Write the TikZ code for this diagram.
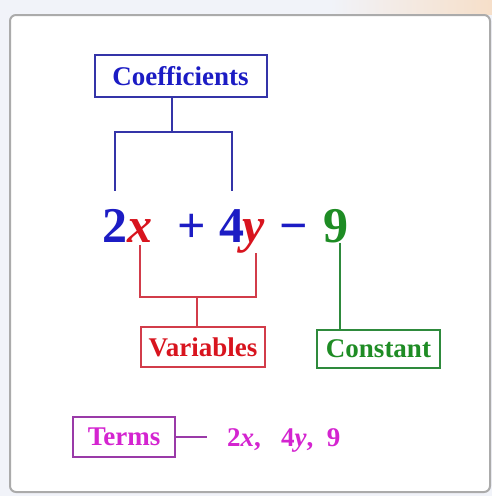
\documentclass[tikz,border=0pt]{standalone}
\usepackage{fontspec}
\setmainfont{Liberation Serif}
\definecolor{pagebg}{HTML}{F1F3F9}
\definecolor{peach}{HTML}{F6DFC9}
\definecolor{framegray}{HTML}{ABABAB}
\definecolor{coefblue}{HTML}{1C1CC4}
\definecolor{coefborder}{HTML}{3434A8}
\definecolor{varred}{HTML}{D8141E}
\definecolor{varborder}{HTML}{D23C4A}
\definecolor{constgreen}{HTML}{1E8C24}
\definecolor{constborder}{HTML}{2E8A3C}
\definecolor{termpink}{HTML}{D424D0}
\definecolor{termborder}{HTML}{9A3AA8}
\def\tagfont{\fontsize{27}{30}\selectfont\bfseries}
\def\eqfont{\fontsize{50}{56}\selectfont\bfseries}
\tikzset{
  tagbox/.style={rectangle, draw, line width=2pt, inner sep=0pt, align=center, font=\tagfont},
  coefbox/.style={tagbox, draw=coefborder, text=coefblue, minimum width=172pt, minimum height=42pt},
  varbox/.style={tagbox, draw=varborder, text=varred, minimum width=124pt, minimum height=40pt},
  constbox/.style={tagbox, draw=constborder, text=constgreen, minimum width=123pt, minimum height=38pt},
  termbox/.style={tagbox, draw=termborder, text=termpink, minimum width=102pt, minimum height=40pt},
  glyph/.style={inner sep=0pt, anchor=base west, font=\eqfont},
  coefline/.style={draw=coefborder, line width=2pt},
  varline/.style={draw=varborder, line width=2pt},
  constline/.style={draw=constborder, line width=2pt},
  termline/.style={draw=termborder, line width=2pt}
}

\begin{document}
\begin{tikzpicture}[x=1pt, y=-1pt]
\useasboundingbox (0,0) rectangle (492,496);

% Page and card
\fill[pagebg] (0,0) rectangle (492,496);
\shade[left color=pagebg, right color=peach] (330,0) rectangle (492,14);
\draw[draw=framegray, fill=white, line width=2pt, rounded corners=6pt] (10,15) rectangle (490,492);

% --- Expression ---
\node[glyph, text=coefblue]   (two)   at (102,242) {2};
\node[glyph, text=varred]     (xvar)  at (127,242) {\textit{x}};
\node[glyph, text=coefblue]   (plus)  at (177,242) {+};
\node[glyph, text=coefblue]   (four)  at (219,242) {4};
\node[glyph, text=varred]     (yvar)  at (242,242) {\textit{y}};
\node[glyph, text=coefblue]   (minus) at (279,242) {−};
\node[glyph, text=constgreen] (nine)  at (323,242) {9};

% --- Labels ---
\node[coefbox]  (coef)   at (180.5,76) {Coefficients};
\node[varbox]   (vars)   at (203,347)  {Variables};
\node[constbox] (const)  at (378.5,349) {Constant};
\node[termbox]  (terms)  at (124,437)  {Terms};
\node[inner sep=0pt, anchor=base west, font=\tagfont, text=termpink] (termlist) at (227,446)
  {2\textit{x},\enspace\ 4\textit{y},\enspace 9};

% --- Brackets ---
\coordinate (coefjoin) at (172,132);
\coordinate (varjoin)  at (197,297);
% Coefficients over the numbers
\draw[coefline] ([yshift=18pt]two.north) |- (coefjoin) -| ([yshift=18pt]four.north);
\draw[coefline] (coefjoin) -- (coefjoin |- coef.south);
% Variables under the letters
\draw[varline] ([yshift=-3pt]xvar.south) |- (varjoin) -| ([xshift=3pt]yvar.south);
\draw[varline] (varjoin) -- (varjoin |- vars.north);
% Constant under the 9
\draw[constline] ([xshift=4pt]nine.south) -- ([xshift=4pt]nine.south |- const.north);
% Terms list
\draw[termline] (terms.east) -- ([xshift=-20pt]termlist.west |- terms.east);

\end{tikzpicture}
\end{document}
